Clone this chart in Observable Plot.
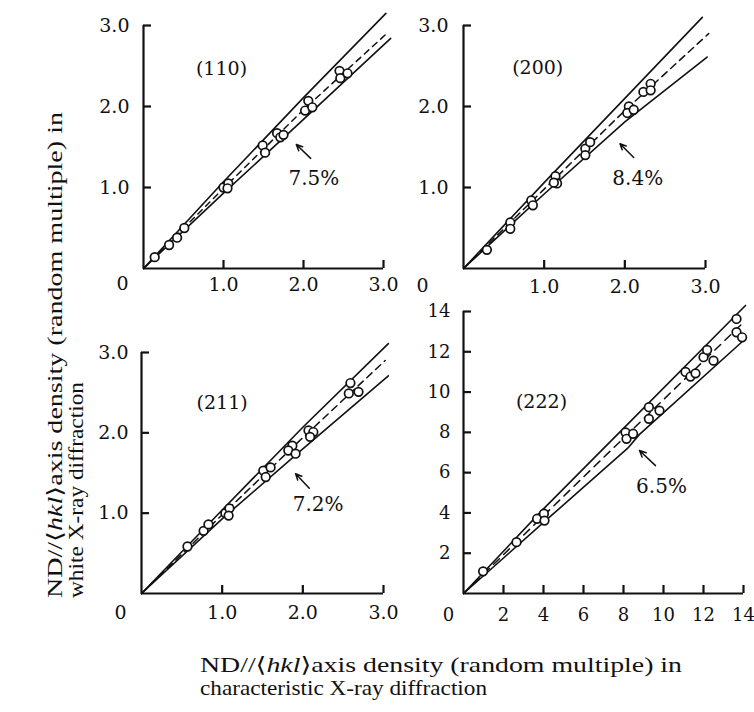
<!DOCTYPE html>
<html><head><meta charset="utf-8">
<script src="https://cdn.jsdelivr.net/npm/d3@7"></script>
<script src="https://cdn.jsdelivr.net/npm/@observablehq/plot@0.6"></script>
<style>
html,body{margin:0;padding:0;background:#fff;}
#wrap{position:relative;width:754px;height:712px;overflow:hidden;background:#fff;}
#wrap svg{position:absolute;}
</style></head><body>
<div id="wrap"></div>
<script>
// ---- tick values ----
const ticks3 = [1, 2, 3];
const ticks14 = [2, 4, 6, 8, 10, 12, 14];

// ---- (110) ----
const pts110 = [[0.14,0.14],[0.32,0.29],[0.42,0.38],[0.51,0.50],[1.00,1.00],[1.06,1.05],[1.05,0.99],[1.49,1.52],[1.52,1.43],[1.67,1.67],[1.71,1.62],[1.75,1.65],[2.06,2.07],[2.02,1.95],[2.11,1.99],[2.45,2.44],[2.46,2.35],[2.55,2.41]];
const upper110 = [[0,0],[1,1.07],[2,2.11],[3.03,3.15]];
const mid110 = [[0,0],[1,0.99],[2,1.96],[3.05,2.91]];
const lower110 = [[0,0],[1,0.93],[2,1.84],[3.09,2.84]];

// ---- (200) ----
const pts200 = [[0.29,0.23],[0.58,0.57],[0.58,0.49],[0.84,0.84],[0.86,0.78],[1.14,1.14],[1.16,1.05],[1.12,1.06],[1.51,1.48],[1.51,1.40],[1.57,1.56],[2.05,2.00],[2.03,1.92],[2.11,1.96],[2.23,2.18],[2.32,2.28],[2.32,2.20]];
const upper200 = [[0,0],[1,1.06],[2,2.10],[2.96,3.10]];
const mid200 = [[0,0],[1,0.98],[2,1.95],[3.04,2.90]];
const lower200 = [[0,0],[1,0.92],[2,1.81],[3.02,2.61]];

// ---- (211) ----
const pts211 = [[0.57,0.585],[0.77,0.78],[0.83,0.86],[1.04,1.00],[1.09,1.06],[1.08,0.97],[1.51,1.53],[1.60,1.57],[1.54,1.45],[1.87,1.84],[1.82,1.78],[1.91,1.74],[2.07,2.03],[2.13,2.01],[2.09,1.95],[2.59,2.62],[2.57,2.49],[2.69,2.51]];
const upper211 = [[0,0],[1,1.04],[2,2.07],[3.06,3.11]];
const mid211 = [[0,0],[1,0.98],[2,1.94],[3.02,2.90]];
const lower211 = [[0,0],[1,0.93],[2,1.80],[3.06,2.71]];

// ---- (222) ----
const pts222 = [[0.98,1.10],[2.65,2.55],[3.68,3.71],[4.02,3.96],[4.05,3.62],[8.10,8.00],[8.15,7.68],[8.48,7.93],[9.27,9.25],[9.27,8.67],[9.80,9.08],[11.10,11.00],[11.35,10.77],[11.60,10.93],[12.00,11.73],[12.18,12.09],[12.50,11.56],[13.65,13.63],[13.65,12.97],[13.93,12.72]];
const upper222 = [[0,0],[4,4.2],[8,8.2],[14.1,14.3]];
const mid222 = [[0,0],[7,6.75],[14,13.46]];
const lower222 = [[0,0],[4.2,3.7],[8.2,7.2],[8.8,7.9],[14,12.56]];

const panelLabels = ["(110)", "(200)", "(211)", "(222)"];
const pctLabels = ["7.5%", "8.4%", "7.2%", "6.5%"];

const SERIF = "'DejaVu Serif', serif";
const toObj = a => a.map(([x, y]) => ({x, y}));
const TICK = 8; // inward tick length, px

function panel(o) {
  const kx = TICK * o.xmax / (o.width - o.mL - o.mR);   // tick length in x data units
  const ky = TICK * o.ymax / (o.height - o.mT - o.mB);  // tick length in y data units
  const svg = Plot.plot({
    width: o.width, height: o.height,
    marginLeft: o.mL, marginRight: o.mR, marginTop: o.mT, marginBottom: o.mB,
    x: {domain: [0, o.xmax], axis: null},
    y: {domain: [0, o.ymax], axis: null},
    style: {fontFamily: SERIF, fontSize: o.fs + "px", background: "transparent", overflow: "visible", color: "#111"},
    marks: [
      Plot.line(toObj(o.upper), {x: "x", y: "y", stroke: "#111", strokeWidth: 1.6}),
      Plot.line(toObj(o.lower), {x: "x", y: "y", stroke: "#111", strokeWidth: 1.6}),
      Plot.line(toObj(o.mid), {x: "x", y: "y", stroke: "#111", strokeWidth: 1.5, strokeDasharray: o.dash}),
      Plot.ruleX([0], {y1: 0, y2: o.ymax, stroke: "#111", strokeWidth: 2.2}),
      Plot.ruleY([0], {x1: 0, x2: o.xmax, stroke: "#111", strokeWidth: 2.2}),
      Plot.ruleX(o.xt, {x: d => d, y1: 0, y2: ky, stroke: "#111", strokeWidth: 2.2}),
      Plot.ruleY(o.yt, {y: d => d, x1: 0, x2: kx, stroke: "#111", strokeWidth: 2.2}),
      Plot.axisX(o.xt, {label: null, tickSize: 0, tickPadding: o.xPad, tickFormat: o.fmt, fontSize: o.fs, fontFamily: SERIF, fill: "#111"}),
      Plot.axisY(o.yt, {label: null, tickSize: 0, tickPadding: o.yPad, tickFormat: o.fmt, fontSize: o.fs, fontFamily: SERIF, fill: "#111"}),
      Plot.text(["0"], {x: 0, y: 0, text: d => d, dx: o.zdx, dy: o.zdy, fontSize: o.fs, fontFamily: SERIF, fill: "#111"}),
      Plot.dot(toObj(o.pts), {x: "x", y: "y", r: 4.3, fill: "white", stroke: "#111", strokeWidth: 1.7}),
      Plot.text([o.label], {x: o.lx, y: o.ly, text: d => d, fontSize: 19, fontFamily: SERIF, fill: "#111"}),
      Plot.text([o.pct], {x: o.px, y: o.py, text: d => d, fontSize: 20, fontFamily: SERIF, fill: "#111"}),
      Plot.arrow([0], {x1: o.arrow[0], y1: o.arrow[1], x2: o.arrow[2], y2: o.arrow[3], stroke: "#111", strokeWidth: 1.5, headLength: 7, headAngle: 50})
    ]
  });
  svg.style.left = o.left + "px";
  svg.style.top = o.top + "px";
  svg.style.position = "absolute";
  document.getElementById("wrap").appendChild(svg);
}

const f1 = d => d.toFixed(1);
const f0 = d => String(d);

panel({pts: pts110, upper: upper110, mid: mid110, lower: lower110, xmax: 3, ymax: 3, xt: ticks3, yt: ticks3, fmt: f1, fs: 19,
  left: 80, top: 0, width: 330, height: 300, mL: 63, mR: 27, mT: 25, mB: 32, xPad: 9, yPad: 14, zdx: -21, zdy: 15.5,
  label: panelLabels[0], lx: 0.975, ly: 2.47, pct: pctLabels[0], px: 2.13, py: 1.11, arrow: [2.09, 1.36, 1.91, 1.53], dash: "6,5"});

panel({pts: pts200, upper: upper200, mid: mid200, lower: lower200, xmax: 3, ymax: 3, xt: ticks3, yt: ticks3, fmt: f1, fs: 19,
  left: 400, top: 0, width: 330, height: 300, mL: 63, mR: 25, mT: 25, mB: 32, xPad: 10.5, yPad: 15, zdx: -41, zdy: 17.5,
  label: panelLabels[1], lx: 0.92, ly: 2.48, pct: pctLabels[1], px: 2.16, py: 1.11, arrow: [2.11, 1.37, 1.94, 1.54], dash: "7,5"});

panel({pts: pts211, upper: upper211, mid: mid211, lower: lower211, xmax: 3, ymax: 3, xt: ticks3, yt: ticks3, fmt: f1, fs: 19,
  left: 80, top: 320, width: 330, height: 320, mL: 61, mR: 27, mT: 32, mB: 47, xPad: 12, yPad: 13, zdx: -21, zdy: 19,
  label: panelLabels[2], lx: 1.0, ly: 2.37, pct: pctLabels[2], px: 2.19, py: 1.11, arrow: [2.08, 1.31, 1.91, 1.49], dash: "7,5"});

panel({pts: pts222, upper: upper222, mid: mid222, lower: lower222, xmax: 14, ymax: 14, xt: ticks14, yt: ticks14, fmt: f0, fs: 18,
  left: 400, top: 290, width: 354, height: 350, mL: 63, mR: 11, mT: 21, mB: 47, xPad: 15, yPad: 13, zdx: -15, zdy: 22,
  label: panelLabels[3], lx: 3.9, ly: 9.53, pct: pctLabels[3], px: 9.9, py: 5.31, arrow: [9.6, 6.35, 8.8, 7.1], dash: "8,6"});

// ---- axis titles ----
const TSERIF = "'Liberation Serif', 'DejaVu Serif', serif";
const ov = d3.select("#wrap").append("svg")
  .attr("width", 754).attr("height", 712)
  .style("left", "0px").style("top", "0px").style("pointer-events", "none");

function title(g, parts, len, fs) {
  const t = g.append("text")
    .attr("font-family", TSERIF).attr("font-size", fs).attr("fill", "#111")
    .attr("textLength", len).attr("lengthAdjust", "spacingAndGlyphs");
  parts.forEach(([s, it]) => t.append("tspan").text(s).attr("font-style", it ? "italic" : null));
}
const line1 = [["ND//\u27E8", false], ["hkl", true], ["\u27E9axis density (random multiple) in", false]];

// vertical (y) title
title(ov.append("g").attr("transform", "translate(62,598) rotate(-90)"), line1, 486, 21);
title(ov.append("g").attr("transform", "translate(83,598) rotate(-90)"), [["white X-ray diffraction", false]], 216, 22);
// horizontal (x) title
title(ov.append("g").attr("transform", "translate(200,672)"), line1, 482, 21);
title(ov.append("g").attr("transform", "translate(200,695)"), [["characteristic  X-ray diffraction", false]], 287, 22);
</script>
</body></html>
